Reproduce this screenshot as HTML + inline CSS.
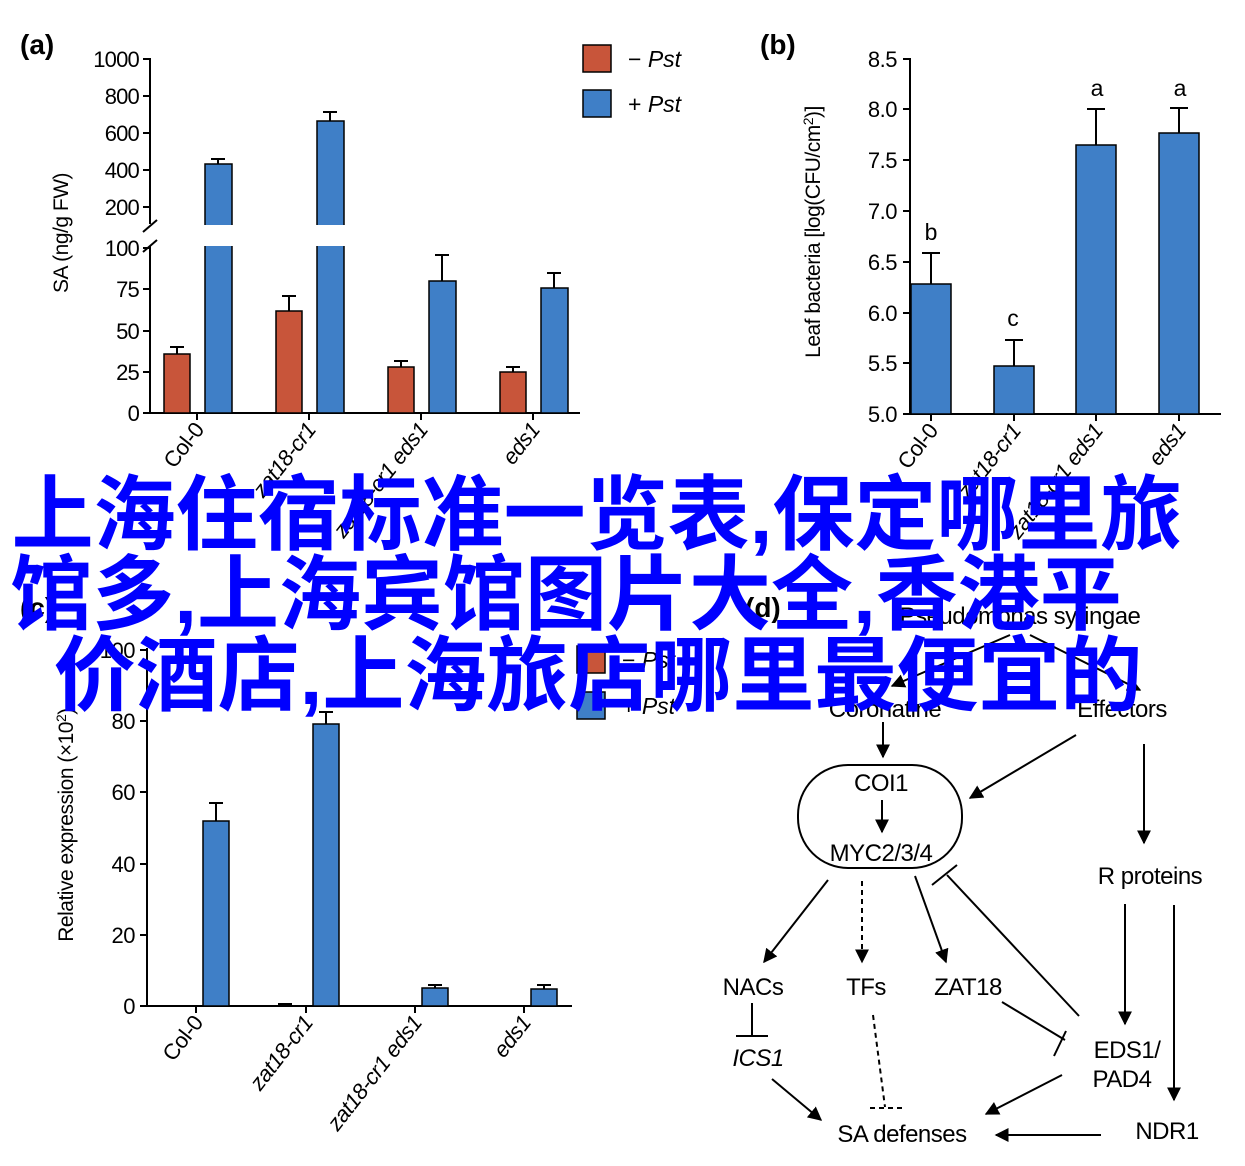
<!DOCTYPE html>
<html><head><meta charset="utf-8"><style>
html,body{margin:0;padding:0;background:#fff;}
svg{display:block;font-family:"Liberation Sans",Arial,sans-serif;}
</style></head><body>
<svg width="1245" height="1166" viewBox="0 0 1245 1166" xmlns="http://www.w3.org/2000/svg">
<defs>
<marker id="ah" viewBox="0 0 10 10" refX="9" refY="5" markerWidth="14" markerHeight="14" orient="auto" markerUnits="userSpaceOnUse"><path d="M0,0 L10,5 L0,10z" fill="#000"/></marker>
</defs>
<g stroke="#000" stroke-width="2" fill="none">
<line x1="150" y1="58" x2="150" y2="224"/>
<line x1="150" y1="246" x2="150" y2="414"/>
<line x1="143" y1="232" x2="157" y2="220"/><line x1="143" y1="252" x2="157" y2="240"/>
<line x1="149" y1="413" x2="580" y2="413"/>
<line x1="143" y1="59" x2="150" y2="59"/><line x1="143" y1="96" x2="150" y2="96"/><line x1="143" y1="133" x2="150" y2="133"/><line x1="143" y1="170" x2="150" y2="170"/><line x1="143" y1="207" x2="150" y2="207"/>
<line x1="143" y1="248" x2="150" y2="248"/><line x1="143" y1="289" x2="150" y2="289"/><line x1="143" y1="331" x2="150" y2="331"/><line x1="143" y1="372" x2="150" y2="372"/><line x1="143" y1="413" x2="150" y2="413"/>
<line x1="197" y1="413" x2="197" y2="420"/><line x1="309" y1="413" x2="309" y2="420"/><line x1="421" y1="413" x2="421" y2="420"/><line x1="533" y1="413" x2="533" y2="420"/>
</g>
<g stroke="#000" stroke-width="1.5">
<rect x="164" y="354" width="26" height="59" fill="#c8553a"/>
<rect x="276" y="311" width="26" height="102" fill="#c8553a"/>
<rect x="388" y="367" width="26" height="46" fill="#c8553a"/>
<rect x="500" y="372" width="26" height="41" fill="#c8553a"/>
<rect x="205" y="164" width="27" height="249" fill="#3f7fc7"/>
<rect x="317" y="121" width="27" height="292" fill="#3f7fc7"/>
<rect x="429" y="281" width="27" height="132" fill="#3f7fc7"/>
<rect x="541" y="288" width="27" height="125" fill="#3f7fc7"/>
</g>
<rect x="203" y="225" width="31" height="21" fill="#fff"/><rect x="315" y="225" width="31" height="21" fill="#fff"/>
<g stroke="#000" stroke-width="2">
<path d="M177 354V347M170 347H184"/><path d="M289 311V296M282 296H296"/><path d="M401 367V361M394 361H408"/><path d="M513 372V367M506 367H520"/>
<path d="M218 164V159M211 159H225"/><path d="M330 121V112M323 112H337"/><path d="M442 281V255M435 255H449"/><path d="M554 288V273M547 273H561"/>
</g>
<g font-size="22" text-anchor="end" letter-spacing="-0.8">
<text x="139" y="67">1000</text><text x="139" y="104">800</text><text x="139" y="141">600</text><text x="139" y="178">400</text><text x="139" y="215">200</text>
<text x="139" y="256">100</text><text x="139" y="297">75</text><text x="139" y="339">50</text><text x="139" y="380">25</text><text x="139" y="421">0</text>
</g>
<text transform="translate(68,233) rotate(-90)" font-size="21" text-anchor="middle" letter-spacing="-0.5">SA (ng/g FW)</text>
<text x="20" y="54" font-size="28" font-weight="bold">(a)</text>
<rect x="583" y="45" width="28" height="27" fill="#c8553a" stroke="#000" stroke-width="1.5"/>
<rect x="583" y="90" width="28" height="27" fill="#3f7fc7" stroke="#000" stroke-width="1.5"/>
<text x="628" y="67" font-size="23">− <tspan font-style="italic">Pst</tspan></text>
<text x="628" y="112" font-size="23">+ <tspan font-style="italic">Pst</tspan></text>
<g font-size="22" text-anchor="end" letter-spacing="-0.5">
<text transform="translate(205,430) rotate(-52)">Col-0</text>
<text transform="translate(317,430) rotate(-52)" font-style="italic">zat18-cr1</text>
<text transform="translate(429,430) rotate(-52)" font-style="italic">zat18-cr1 eds1</text>
<text transform="translate(541,430) rotate(-52)" font-style="italic">eds1</text>
</g>

<g stroke="#000" stroke-width="2">
<line x1="910" y1="58" x2="910" y2="415"/><line x1="909" y1="414" x2="1221" y2="414"/>
<line x1="903" y1="59" x2="910" y2="59"/><line x1="903" y1="109" x2="910" y2="109"/><line x1="903" y1="160" x2="910" y2="160"/><line x1="903" y1="211" x2="910" y2="211"/><line x1="903" y1="262" x2="910" y2="262"/><line x1="903" y1="313" x2="910" y2="313"/><line x1="903" y1="363" x2="910" y2="363"/><line x1="903" y1="414" x2="910" y2="414"/>
<line x1="931" y1="414" x2="931" y2="421"/><line x1="1014" y1="414" x2="1014" y2="421"/><line x1="1096" y1="414" x2="1096" y2="421"/><line x1="1179" y1="414" x2="1179" y2="421"/>
</g>
<g stroke="#000" stroke-width="1.5" fill="#3f7fc7">
<rect x="911" y="284" width="40" height="130"/><rect x="994" y="366" width="40" height="48"/><rect x="1076" y="145" width="40" height="269"/><rect x="1159" y="133" width="40" height="281"/>
</g>
<g stroke="#000" stroke-width="2">
<path d="M931 284V253M922 253H940"/><path d="M1014 366V340M1005 340H1023"/><path d="M1096 145V109M1087 109H1105"/><path d="M1179 133V108M1170 108H1188"/>
</g>
<g font-size="22" text-anchor="end" letter-spacing="-0.5">
<text x="897" y="67">8.5</text><text x="897" y="117">8.0</text><text x="897" y="168">7.5</text><text x="897" y="219">7.0</text><text x="897" y="270">6.5</text><text x="897" y="321">6.0</text><text x="897" y="371">5.5</text><text x="897" y="422">5.0</text>
</g>
<g font-size="23" text-anchor="middle"><text x="931" y="240">b</text><text x="1013" y="326">c</text><text x="1097" y="96">a</text><text x="1180" y="96">a</text></g>
<text transform="translate(820,232) rotate(-90)" font-size="21" text-anchor="middle" letter-spacing="-0.5">Leaf bacteria [log(CFU/cm<tspan dy="-7" font-size="14">2</tspan><tspan dy="7">)]</tspan></text>
<text x="760" y="54" font-size="28" font-weight="bold">(b)</text>
<g font-size="22" text-anchor="end" letter-spacing="-0.5">
<text transform="translate(939,431) rotate(-52)">Col-0</text>
<text transform="translate(1022,431) rotate(-52)" font-style="italic">zat18-cr1</text>
<text transform="translate(1104,431) rotate(-52)" font-style="italic">zat18-cr1 eds1</text>
<text transform="translate(1187,431) rotate(-52)" font-style="italic">eds1</text>
</g>

<g stroke="#000" stroke-width="2">
<line x1="147" y1="648" x2="147" y2="1007"/><line x1="146" y1="1006" x2="572" y2="1006"/>
<line x1="140" y1="650" x2="147" y2="650"/><line x1="140" y1="721" x2="147" y2="721"/><line x1="140" y1="792" x2="147" y2="792"/><line x1="140" y1="864" x2="147" y2="864"/><line x1="140" y1="935" x2="147" y2="935"/><line x1="140" y1="1006" x2="147" y2="1006"/>
<line x1="196" y1="1006" x2="196" y2="1013"/><line x1="306" y1="1006" x2="306" y2="1013"/><line x1="415" y1="1006" x2="415" y2="1013"/><line x1="524" y1="1006" x2="524" y2="1013"/>
</g>
<g stroke="#000" stroke-width="1.5" fill="#3f7fc7">
<rect x="203" y="821" width="26" height="185"/><rect x="313" y="724" width="26" height="282"/><rect x="422" y="988" width="26" height="18"/><rect x="531" y="989" width="26" height="17"/>
</g>
<g stroke="#000" stroke-width="2">
<path d="M216 821V803M209 803H223"/><path d="M326 724V712M319 712H333"/><path d="M435 988V985M428 985H442"/><path d="M544 989V985M537 985H551"/>
<path d="M278 1004H292"/>
</g>
<g font-size="22" text-anchor="end" letter-spacing="-0.5">
<text x="135" y="658">100</text><text x="135" y="729">80</text><text x="135" y="800">60</text><text x="135" y="872">40</text><text x="135" y="943">20</text><text x="135" y="1014">0</text>
</g>
<text transform="translate(73,825) rotate(-90)" font-size="21" text-anchor="middle" letter-spacing="-0.5">Relative expression (×10<tspan dy="-7" font-size="14">2</tspan><tspan dy="7">)</tspan></text>
<text x="20" y="617" font-size="28" font-weight="bold">(c)</text>
<rect x="577" y="646" width="28" height="27" fill="#c8553a" stroke="#000" stroke-width="1.5"/>
<rect x="577" y="692" width="28" height="27" fill="#3f7fc7" stroke="#000" stroke-width="1.5"/>
<text x="622" y="668" font-size="23">− <tspan font-style="italic">Pst</tspan></text>
<text x="622" y="714" font-size="23">+ <tspan font-style="italic">Pst</tspan></text>
<g font-size="22" text-anchor="end" letter-spacing="-0.5">
<text transform="translate(204,1023) rotate(-52)">Col-0</text>
<text transform="translate(314,1023) rotate(-52)" font-style="italic">zat18-cr1</text>
<text transform="translate(423,1023) rotate(-52)" font-style="italic">zat18-cr1 eds1</text>
<text transform="translate(532,1023) rotate(-52)" font-style="italic">eds1</text>
</g>

<text x="745" y="617" font-size="28" font-weight="bold">(d)</text>
<g font-size="24" text-anchor="middle" letter-spacing="-0.5">
<text x="1020" y="624">Pseudomonas syringae</text>
<text x="885" y="717">Coronatine</text>
<text x="1122" y="717">Effectors</text>
<text x="881" y="791">COI1</text>
<text x="881" y="861">MYC2/3/4</text>
<text x="1150" y="884">R proteins</text>
<text x="753" y="995">NACs</text>
<text x="866" y="995">TFs</text>
<text x="968" y="995">ZAT18</text>
<text x="758" y="1066" font-style="italic">ICS1</text>
<text x="1127" y="1058">EDS1/</text>
<text x="1122" y="1087">PAD4</text>
<text x="902" y="1142">SA defenses</text>
<text x="1167" y="1139">NDR1</text>
</g>
<rect x="798" y="765" width="164" height="103" rx="50" ry="50" fill="none" stroke="#000" stroke-width="2"/>
<g stroke="#000" stroke-width="2" fill="none" marker-end="url(#ah)">
<line x1="1010" y1="635" x2="892" y2="686"/>
<line x1="1030" y1="635" x2="1140" y2="690"/>
<line x1="883" y1="722" x2="883" y2="757"/>
<line x1="1076" y1="735" x2="970" y2="798"/>
<line x1="1144" y1="744" x2="1144" y2="843"/>
<line x1="882" y1="800" x2="882" y2="832"/>
<line x1="828" y1="880" x2="764" y2="962"/>
<line x1="862" y1="881" x2="862" y2="962" stroke-dasharray="5,4"/>
<line x1="915" y1="876" x2="946" y2="962"/>
<line x1="1125" y1="904" x2="1125" y2="1024"/>
<line x1="1174" y1="905" x2="1174" y2="1100"/>
<line x1="772" y1="1079" x2="821" y2="1120"/>
<line x1="1062" y1="1075" x2="986" y2="1114"/>
<line x1="1101" y1="1135" x2="996" y2="1135"/>
</g>
<g stroke="#000" stroke-width="2" fill="none">
<line x1="1079" y1="1016" x2="947" y2="875"/><line x1="932" y1="885" x2="957" y2="865"/>
<line x1="752" y1="1003" x2="752" y2="1036"/><line x1="736" y1="1036" x2="768" y2="1036"/>
<line x1="1002" y1="1002" x2="1065" y2="1040"/><line x1="1066" y1="1031" x2="1054" y2="1056"/>
<path d="M873 1015 L885 1107" stroke-dasharray="5,4"/><line x1="870" y1="1108" x2="903" y2="1108" stroke-dasharray="5,4"/>
</g>

<g font-family="'Liberation Sans','Noto Sans CJK SC',sans-serif" font-weight="bold" font-size="82" fill="#0000ff" text-anchor="middle">
<text x="597" y="543">上海住宿标准一览表,保定哪里旅</text>
<text x="566" y="623">馆多,上海宾馆图片大全,香港平</text>
<text x="598" y="704">价酒店,上海旅店哪里最便宜的</text>
</g>
</svg>
</body></html>
